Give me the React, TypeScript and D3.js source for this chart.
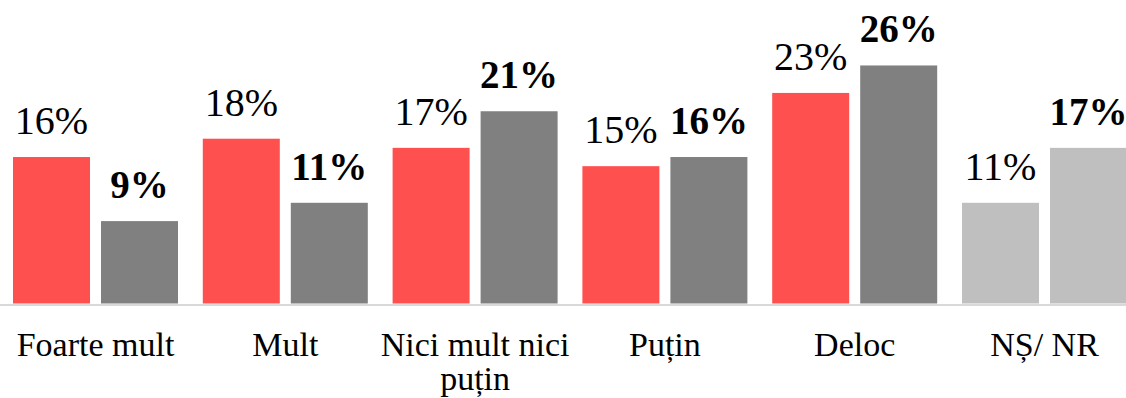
import React from "react";
import * as d3 from "d3";

const categories: string[][] = [
  ["Foarte mult"],
  ["Mult"],
  ["Nici mult nici", "puțin"],
  ["Puțin"],
  ["Deloc"],
  ["NȘ/ NR"],
];
const seriesNames = ["A", "B"];
const seriesA = [16, 18, 17, 15, 23, 11];
const seriesB = [9, 11, 21, 16, 26, 17];

const W = 1126;
const H = 398;
const RED = "#FF5050";
const GRAY = "#808080";
const LIGHT = "#BFBFBF";
const FONT = "Liberation Serif";

export default function App() {
  const x0 = d3
    .scaleBand<number>()
    .domain(d3.range(categories.length))
    .range([0.6, 0.6 + 6 * 189.8])
    .padding(0);
  const x1 = d3
    .scaleBand<string>()
    .domain(seriesNames)
    .range([12.4, 12.4 + 165])
    .paddingInner(0.125)
    .paddingOuter(0);
  const y = d3.scaleLinear().domain([0, 30]).range([303.5, 303.5 - 274.65]);

  const colorFor = (ci: number, s: string) => {
    if (ci === categories.length - 1) return LIGHT;
    return s === "A" ? RED : GRAY;
  };

  return (
    <svg
      width={W}
      height={H}
      style={{ position: "absolute", left: 0, top: 0, background: "#fff" }}
    >
      <line x1={0} x2={W} y1={305} y2={305} stroke="#D9D9D9" strokeWidth={2} />
      {categories.map((cat, ci) => {
        const gx = x0(ci) as number;
        const vals = [seriesA[ci], seriesB[ci]];
        return (
          <g key={ci} transform={`translate(${gx},0)`}>
            {seriesNames.map((s, si) => {
              const v = vals[si];
              const bx = x1(s) as number;
              const bw = x1.bandwidth();
              return (
                <g key={s}>
                  <rect
                    x={bx}
                    y={y(v)}
                    width={bw}
                    height={y(0) - y(v)}
                    fill={colorFor(ci, s)}
                  />
                  <text
                    x={bx + bw / 2}
                    y={y(v) - 23}
                    textAnchor="middle"
                    style={{ fontFamily: FONT }}
                    fontSize={si === 0 ? 40 : 39}
                    fontWeight={si === 0 ? "normal" : "bold"}
                    fill="#000"
                  >
                    {v}%
                  </text>
                </g>
              );
            })}
            {cat.map((line, li) => (
              <text
                key={li}
                x={x0.bandwidth() / 2}
                y={356 + li * 34}
                textAnchor="middle"
                style={{ fontFamily: FONT }}
                fontSize={34}
                fill="#000"
              >
                {line}
              </text>
            ))}
          </g>
        );
      })}
    </svg>
  );
}
